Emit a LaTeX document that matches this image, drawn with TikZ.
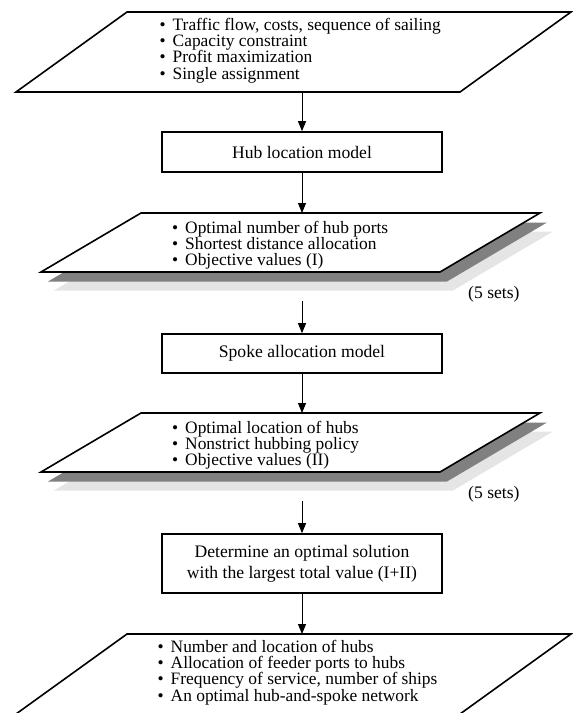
\documentclass[tikz,border=0pt]{standalone}
\usepackage{fontspec}
\setmainfont{Liberation Serif}
\usetikzlibrary{arrows.meta}
\definecolor{shadowdark}{gray}{0.5}
\definecolor{shadowlight}{gray}{0.9}
\tikzset{
  para/.style={draw, line width=1.6pt, line join=miter, fill=white},
  shadowA/.style={fill=shadowdark},
  shadowB/.style={fill=shadowlight},
  stepbox/.style={draw, line width=1.6pt, minimum width=280pt, minimum height=40pt,
    inner sep=0pt, font=\fontsize{17.6}{21}\selectfont, align=center},
  item/.style={anchor=base west, inner sep=0pt, text height=11pt, text depth=3pt,
    font=\fontsize{17.4}{16.2}\selectfont},
  note/.style={anchor=base west, inner sep=0pt, font=\fontsize{17.6}{21}\selectfont},
  flow/.style={line width=1pt, -{Triangle[length=10pt,width=8pt]}},
}
\newcommand{\bul}[1]{\makebox[13pt][l]{\textbullet}#1}
\begin{document}
\begin{tikzpicture}[x=1pt,y=-1pt]
\useasboundingbox (0,0) rectangle (573,713);

% ---- top input parallelogram
\draw[para] (16,92) -- (127,12) -- (571,12) -- (460,92) -- cycle;
\foreach \t [count=\i] in {{Traffic flow, costs, sequence of sailing},{Capacity constraint},{Profit maximization},{Single assignment}}
  \node[item] (a\i) at (159.5, 14.3+16.2*\i) {\bul{\t}};
\coordinate (aout) at (302,92);

% ---- hub location model
\node[stepbox] (hub) at (302,152) {Hub location model};
\draw[flow] (aout) -- (hub.north);

% ---- second parallelogram with shadows
\fill[shadowB] (54,290.5) -- (154,231.5) -- (553,231.5) -- (453,290.5) -- cycle;
\fill[shadowA] (48,281.5) -- (148,222.5) -- (547,222.5) -- (447,281.5) -- cycle;
\draw[para] (41,272) -- (141,213) -- (540,213) -- (440,272) -- cycle;
\foreach \t [count=\i] in {{Optimal number of hub ports},{Shortest distance allocation},{Objective values (I)}}
  \node[item] (b\i) at (172, 217.1+16.2*\i) {\bul{\t}};
\coordinate (bin) at (302,213);
\draw[flow] (hub.south) -- (bin);
\node[note] (sets1) at (468,298) {(5 sets)};
\coordinate (bout) at (302,301);

% ---- spoke allocation model
\node[stepbox, minimum height=39pt] (spoke) at (302,353.5) {Spoke allocation model};
\draw[flow] (bout) -- (spoke.north);

% ---- third parallelogram with shadows
\fill[shadowB] (54,490.5) -- (154,431.5) -- (553,431.5) -- (453,490.5) -- cycle;
\fill[shadowA] (48,481.5) -- (148,422.5) -- (547,422.5) -- (447,481.5) -- cycle;
\draw[para] (41,472) -- (141,413) -- (540,413) -- (440,472) -- cycle;
\foreach \t [count=\i] in {{Optimal location of hubs},{Nonstrict hubbing policy},{Objective values (II)}}
  \node[item] (c\i) at (172, 417.1+16.2*\i) {\bul{\t}};
\coordinate (cin) at (302,413);
\draw[flow] (spoke.south) -- (cin);
\node[note] (sets2) at (468,498) {(5 sets)};
\coordinate (cout) at (302,501);

% ---- determine box
\node[stepbox, minimum height=59pt] (det) at (302,563.5) {Determine an optimal solution\\with the largest total value (I+II)};
\draw[flow] (cout) -- (det.north);

% ---- bottom output parallelogram (cut at the lower edge)
\draw[para, fill=none] (16,714) -- (127,634) -- (571,634) -- (460,714);
\foreach \t [count=\i] in {{Number and location of hubs},{Allocation of feeder ports to hubs},{Frequency of service, number of ships},{An optimal hub-and-spoke network}}
  \node[item] (d\i) at (157.5, 636.3+16.2*\i) {\bul{\t}};
\coordinate (din) at (302,634);
\draw[flow] (det.south) -- (din);
\end{tikzpicture}
\end{document}
